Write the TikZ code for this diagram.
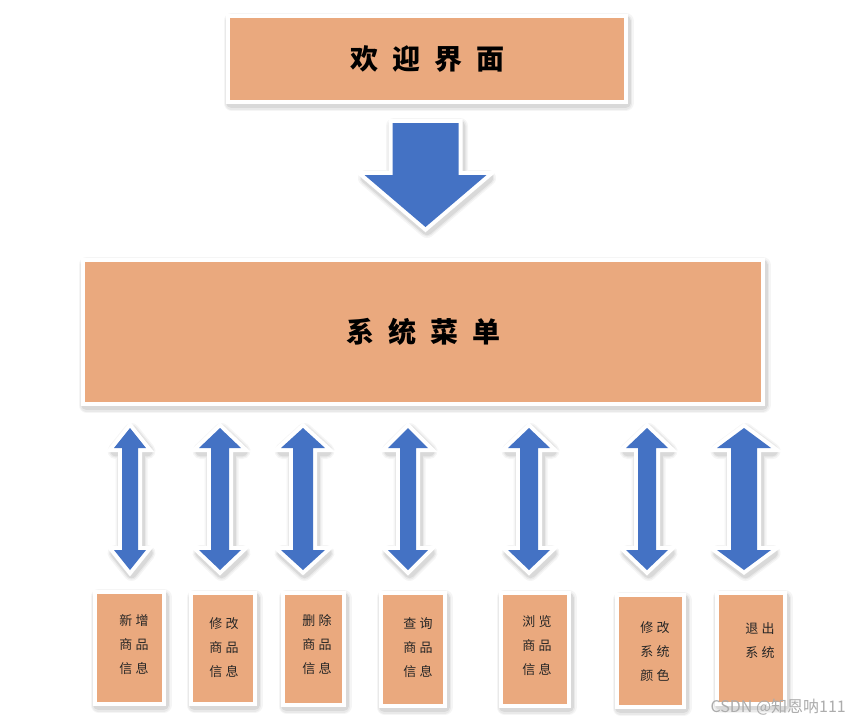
\documentclass[tikz,border=0pt]{standalone}
\usepackage{fontspec}
\setmainfont{Noto Sans CJK SC}
\newfontfamily\cjk{Noto Sans CJK SC}
\newfontfamily\cjkwide[LetterSpace=50]{Noto Sans CJK SC}
\newfontfamily\cjksmall[LetterSpace=26]{Noto Sans CJK SC}
\definecolor{boxorange}{RGB}{234,169,126}
\definecolor{arrowblue}{RGB}{68,114,196}
\tikzset{
  shade box/.style={
    preaction={draw=black, draw opacity=0.04, line width=16pt, line join=round, transform canvas={xshift=1.5pt, yshift=-3pt}},
    preaction={draw=black, draw opacity=0.05, line width=13pt, line join=round, transform canvas={xshift=1.5pt, yshift=-3pt}},
    preaction={draw=black, draw opacity=0.07, line width=10.5pt, line join=round, transform canvas={xshift=1.5pt, yshift=-3pt}},
    preaction={draw=white, line width=8pt}},
  titlebox/.style={shade box, fill=boxorange, inner sep=0pt, font=\cjkwide\bfseries\fontsize{28}{32}\selectfont},
  itembox/.style={shade box, fill=boxorange, inner sep=0pt},
  itemtext/.style={align=center, inner sep=0pt, text=black!85, font=\cjksmall\fontsize{13}{24}\selectfont},
}
\def\itembox{\node[itembox]}
\def\itemtext{\node[itemtext]}
\def\blockarrow{\fill[arrowblue, shade box]}
\newcommand{\twoarrow}[3]{% centre, half head, half shaft
  \blockarrow (#1,428) -- ({#1+#2},448) -- ({#1+#3},448) -- ({#1+#3},550) -- ({#1+#2},550) -- (#1,570)
    -- ({#1-#2},550) -- ({#1-#3},550) -- ({#1-#3},448) -- ({#1-#2},448) -- cycle;}
\begin{document}
\begin{tikzpicture}[x=1pt, y=-1pt]
\useasboundingbox (0,0) rectangle (850,723);
\node[titlebox, minimum width=394pt, minimum height=82pt] (welcome) at (427,59) {欢迎界面};
\node[titlebox, minimum width=676pt, minimum height=140pt] (menu) at (423,332) {系统菜单};
\blockarrow (392.5,123) -- (458.5,123) -- (458.5,175) -- (486.5,175) -- (425.5,227) -- (364.5,175) -- (392.5,175) -- cycle;
\twoarrow{130}{16}{8}
\twoarrow{220}{21}{9}
\twoarrow{303}{22}{10}
\twoarrow{408}{20}{8}
\twoarrow{529}{21}{9}
\twoarrow{647}{21}{9}
\twoarrow{744}{27}{13}
\itembox[minimum width=65pt, minimum height=108pt] (add) at (129.5,648) {};
\itembox[minimum width=60pt, minimum height=107pt] (edit) at (223,648.5) {};
\itembox[minimum width=57pt, minimum height=108pt] (del) at (313.5,649) {};
\itembox[minimum width=60pt, minimum height=109pt] (find) at (413,649.5) {};
\itembox[minimum width=64pt, minimum height=109pt] (view) at (535,649.5) {};
\itembox[minimum width=63pt, minimum height=108pt] (color) at (650.5,651) {};
\itembox[minimum width=64pt, minimum height=107pt] (quit) at (751,648.5) {};
\itemtext (addtext) at (134,645) {新增\\商品\\信息};
\itemtext (edittext) at (224,647.5) {修改\\商品\\信息};
\itemtext (deltext) at (317,645) {删除\\商品\\信息};
\itemtext (findtext) at (418,647.5) {查询\\商品\\信息};
\itemtext (viewtext) at (537,646) {浏览\\商品\\信息};
\itemtext (colortext) at (655,652) {修改\\系统\\颜色};
\itemtext (quittext) at (760,640.5) {退出\\系统};
\node[anchor=east, inner sep=0pt, text=gray!65, font=\cjk\fontsize{16}{16}\selectfont] (mark) at (846,707) {CSDN @知恩呐111};
\end{tikzpicture}
\end{document}
